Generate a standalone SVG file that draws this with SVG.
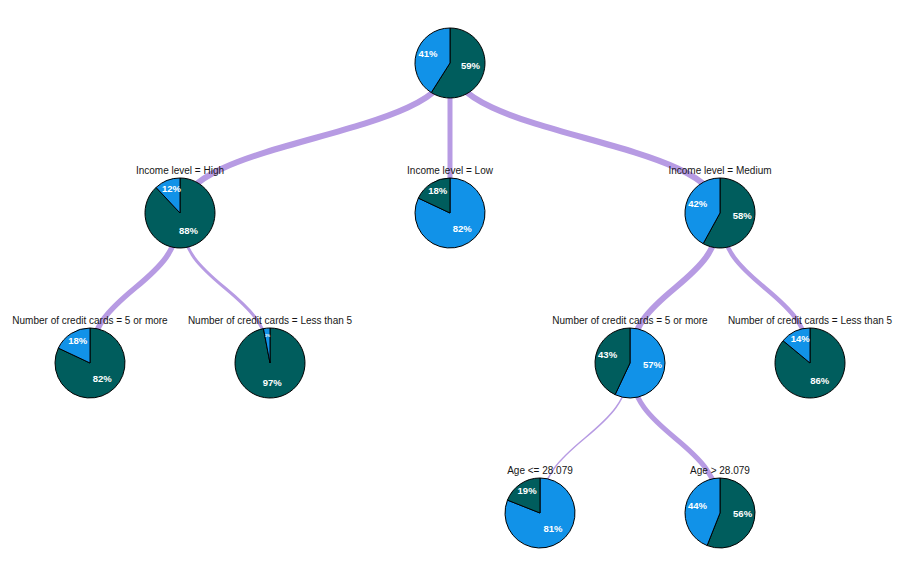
<svg xmlns="http://www.w3.org/2000/svg" width="904" height="576" viewBox="0 0 904 576">
<style>
.link{fill:none;stroke:#b79be3;stroke-linecap:butt}
.dark{fill:#005d5d;stroke:#000;stroke-width:1}
.blue{fill:#1192e8;stroke:#000;stroke-width:1}
.pct{fill:#fff;font-family:"Liberation Sans",Arial,sans-serif;font-size:9.5px;font-weight:bold;text-anchor:middle}
.lbl{fill:#161616;font-family:"Liberation Sans",Arial,sans-serif;font-size:10px;text-anchor:middle}
</style>
<rect width="904" height="576" fill="#fff"/>
<g id="connectors">
<path class="link" stroke-width="6" d="M450,63 C450,138 180,138 180,213"/>
<path class="link" stroke-width="5" d="M450,63 L450,213"/>
<path class="link" stroke-width="6" d="M450,63 C450,138 720,138 720,213"/>
<path class="link" stroke-width="5.5" d="M180,213 C180,288 90,288 90,363"/>
<path class="link" stroke-width="3" d="M180,213 C180,288 270,288 270,363"/>
<path class="link" stroke-width="6" d="M720,213 C720,288 630,288 630,363"/>
<path class="link" stroke-width="4.5" d="M720,213 C720,288 810,288 810,363"/>
<path class="link" stroke-width="1.5" d="M630,363 C630,438 540,438 540,513"/>
<path class="link" stroke-width="5" d="M630,363 C630,438 720,438 720,513"/>
</g>
<g id="root">
<path class="dark" d="M450,63 L450,28 A35,35 0 1 1 431.25,92.55 Z"/>
<path class="blue" d="M450,63 L431.25,92.55 A35,35 0 0 1 450,28 Z"/>
<text class="pct" x="470.5" y="69.4">59%</text>
<text class="pct" x="428" y="56.6">41%</text>
</g>
<g id="income-high">
<text class="lbl" x="180" y="174">Income level = High</text>
<path class="dark" d="M180,213 L180,178 A35,35 0 1 1 156.04,187.48 Z"/>
<path class="blue" d="M180,213 L156.04,187.48 A35,35 0 0 1 180,178 Z"/>
<text class="pct" x="188.5" y="234.4">88%</text>
<text class="pct" x="171.5" y="191.6">12%</text>
</g>
<g id="income-low">
<text class="lbl" x="450" y="174">Income level = Low</text>
<path class="blue" d="M450,213 L450,178 A35,35 0 1 1 418.33,198.10 Z"/>
<path class="dark" d="M450,213 L418.33,198.10 A35,35 0 0 1 450,178 Z"/>
<text class="pct" x="462.3" y="232.4">82%</text>
<text class="pct" x="437.7" y="193.6">18%</text>
</g>
<g id="income-medium">
<text class="lbl" x="720" y="174">Income level = Medium</text>
<path class="dark" d="M720,213 L720,178 A35,35 0 1 1 703.14,243.67 Z"/>
<path class="blue" d="M720,213 L703.14,243.67 A35,35 0 0 1 720,178 Z"/>
<text class="pct" x="742.3" y="218.7">58%</text>
<text class="pct" x="697.7" y="207.3">42%</text>
</g>
<g id="high-cards-5-or-more">
<text class="lbl" x="90" y="324">Number of credit cards = 5 or more</text>
<path class="dark" d="M90,363 L90,328 A35,35 0 1 1 58.33,348.10 Z"/>
<path class="blue" d="M90,363 L58.33,348.10 A35,35 0 0 1 90,328 Z"/>
<text class="pct" x="102.3" y="382.4">82%</text>
<text class="pct" x="77.7" y="343.6">18%</text>
</g>
<g id="high-cards-less-than-5">
<text class="lbl" x="270" y="324">Number of credit cards = Less than 5</text>
<path class="dark" d="M270,363 L270,328 A35,35 0 1 1 263.44,328.62 Z"/>
<path class="blue" d="M270,363 L263.44,328.62 A35,35 0 0 1 270,328 Z"/>
<text class="pct" x="272.2" y="385.9">97%</text>
<text class="pct" x="267.6" y="337" style="font-size:3.5px">3%</text>
</g>
<g id="medium-cards-5-or-more">
<text class="lbl" x="630" y="324">Number of credit cards = 5 or more</text>
<path class="blue" d="M630,363 L630,328 A35,35 0 1 1 615.10,394.67 Z"/>
<path class="dark" d="M630,363 L615.10,394.67 A35,35 0 0 1 630,328 Z"/>
<text class="pct" x="652.4" y="368">57%</text>
<text class="pct" x="607.6" y="358">43%</text>
</g>
<g id="medium-cards-less-than-5">
<text class="lbl" x="810" y="324">Number of credit cards = Less than 5</text>
<path class="dark" d="M810,363 L810,328 A35,35 0 1 1 783.03,340.69 Z"/>
<path class="blue" d="M810,363 L783.03,340.69 A35,35 0 0 1 810,328 Z"/>
<text class="pct" x="819.8" y="383.8">86%</text>
<text class="pct" x="800.2" y="342.2">14%</text>
</g>
<g id="age-le">
<text class="lbl" x="540" y="474">Age &lt;= 28.079</text>
<path class="blue" d="M540,513 L540,478 A35,35 0 1 1 507.46,500.12 Z"/>
<path class="dark" d="M540,513 L507.46,500.12 A35,35 0 0 1 540,478 Z"/>
<text class="pct" x="552.9" y="532">81%</text>
<text class="pct" x="527.1" y="494">19%</text>
</g>
<g id="age-gt">
<text class="lbl" x="720" y="474">Age &gt; 28.079</text>
<path class="dark" d="M720,513 L720,478 A35,35 0 1 1 707.12,545.54 Z"/>
<path class="blue" d="M720,513 L707.12,545.54 A35,35 0 0 1 720,478 Z"/>
<text class="pct" x="742.6" y="517.3">56%</text>
<text class="pct" x="697.4" y="508.7">44%</text>
</g>
</svg>
